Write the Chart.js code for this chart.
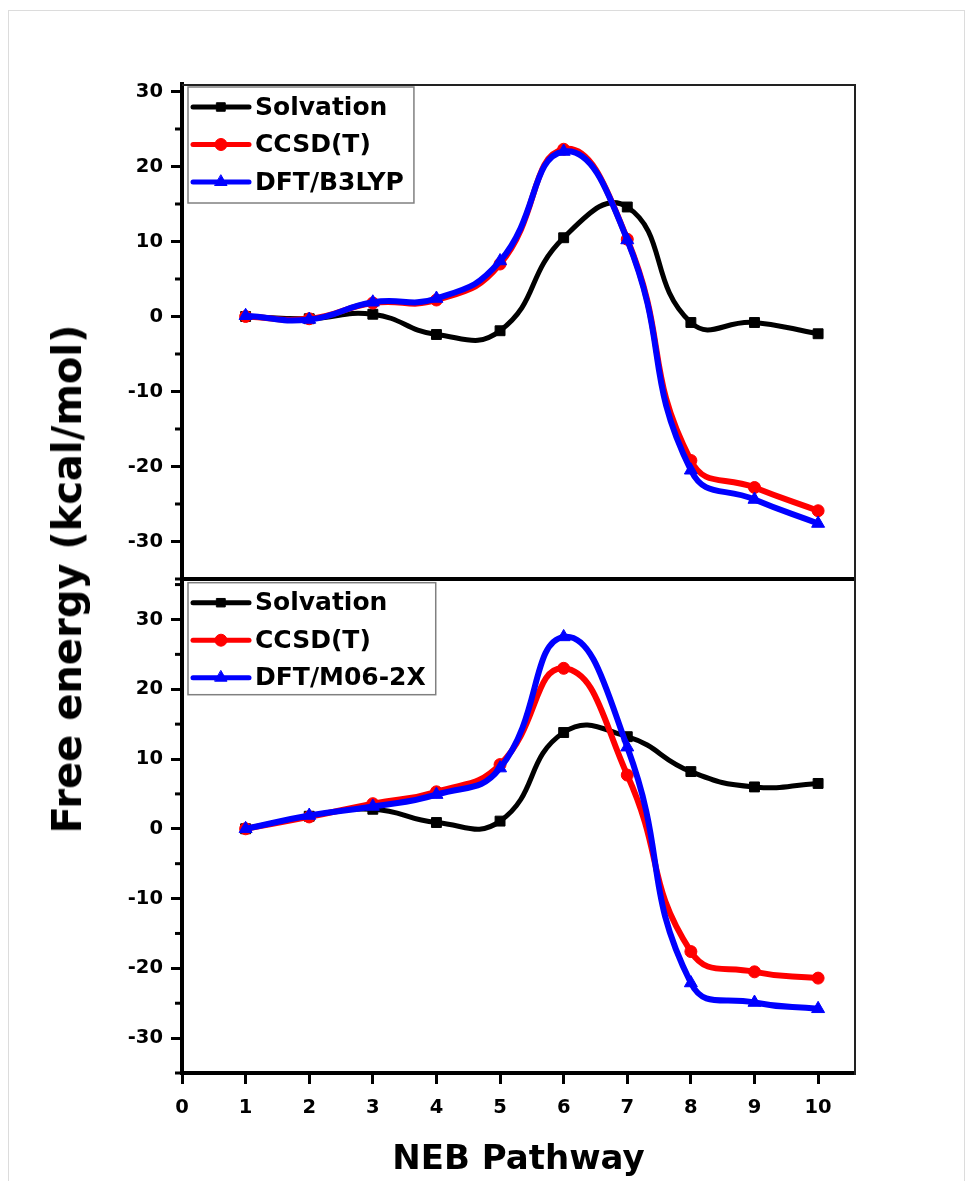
<!DOCTYPE html>
<html><head><meta charset="utf-8">
<script src="https://cdn.jsdelivr.net/npm/chart.js@4.4.1/dist/chart.umd.min.js"></script>
<style>
html,body{margin:0;padding:0;background:#fff;}
body{width:972px;height:1181px;position:relative;overflow:hidden;}
#frame{position:absolute;left:8px;top:10px;width:955px;height:1180px;border-left:1px solid #dcdcdc;border-top:1px solid #dcdcdc;border-right:1px solid #dcdcdc;}
#c1{position:absolute;left:0;top:0;}
#c2{position:absolute;left:0;top:560px;}
#ytitle{position:absolute;left:67px;top:579px;transform:translate(-50%,-50%) rotate(-90deg);font:bold 40px "DejaVu Sans",sans-serif;white-space:nowrap;color:#000;}
</style></head>
<body>
<div id="frame"></div>
<canvas id="c1" width="972" height="600"></canvas>
<canvas id="c2" width="972" height="621"></canvas>
<div id="ytitle">Free energy (kcal/mol)</div>
<script>
// ---- data ----
const pathwaySteps = [1, 2, 3, 4, 5, 6, 7, 8, 9, 10];
const xTickValues = [0, 1, 2, 3, 4, 5, 6, 7, 8, 9, 10];
const yTickValues = [-30, -20, -10, 0, 10, 20, 30];
const yMinorTickValues = [-35, -25, -15, -5, 5, 15, 25, 35];

const topSeriesLabels = ['Solvation', 'CCSD(T)', 'DFT/B3LYP'];
const topSolvation = [0, -0.3, 0.3, -2.4, -1.9, 10.5, 14.6, -0.8, -0.8, -2.3];
const topCCSDT = [0, -0.3, 1.8, 2.2, 7.0, 22.3, 10.3, -19.2, -22.8, -25.9];
const topB3LYP = [0.1, -0.4, 1.9, 2.4, 7.4, 22.0, 10.2, -20.5, -24.4, -27.6];

const bottomSeriesLabels = ['Solvation', 'CCSD(T)', 'DFT/M06-2X'];
const bottomSolvation = [0, 1.8, 2.8, 0.9, 1.1, 13.8, 13.2, 8.2, 6.0, 6.5];
const bottomCCSDT = [0, 1.7, 3.6, 5.3, 9.2, 23.0, 7.7, -17.6, -20.5, -21.4];
const bottomM062X = [0, 1.9, 3.2, 4.9, 8.7, 27.5, 11.7, -22.1, -24.9, -25.8];

// ---- styles ----
const FONT = '"DejaVu Sans", sans-serif';
const seriesStyles = [
  {color: '#000000', pointStyle: 'rect', radius: 7, width: 5, order: 3, legendRadius: 6},
  {color: '#ff0000', pointStyle: 'circle', radius: 6, width: 6, order: 2, legendRadius: 6},
  {color: '#0000ff', pointStyle: 'triangle', radius: 7.5, width: 6, order: 1, legendRadius: 7}
];

const decorPlugin = {
  id: 'decor',
  afterDraw(chart, args, opts) {
    const ctx = chart.ctx;
    const a = chart.chartArea;
    const y = chart.scales.y;
    ctx.save();
    // minor ticks
    ctx.strokeStyle = '#000';
    ctx.lineWidth = 3;
    yMinorTickValues.forEach(v => {
      if (v < y.min || v > y.max) return;
      const py = y.getPixelForValue(v);
      ctx.beginPath();
      ctx.moveTo(a.left - 7, py);
      ctx.lineTo(a.left, py);
      ctx.stroke();
    });
    // frame (top and right)
    ctx.strokeStyle = '#222';
    ctx.lineWidth = 2;
    ctx.beginPath();
    if (opts.drawTop) {
      ctx.moveTo(a.left, a.top + 1);
      ctx.lineTo(a.right, a.top + 1);
    } else {
      ctx.moveTo(a.right, a.top);
    }
    ctx.lineTo(a.right, a.bottom + 2);
    ctx.stroke();
    // legend
    ctx.font = 'bold 25px ' + FONT;
    ctx.textBaseline = 'middle';
    ctx.textAlign = 'left';
    const dsets = chart.data.datasets;
    const textX = a.left + 73;
    const boxLeft = a.left + 6;
    const boxTop = a.top + 3;
    let maxW = 0;
    dsets.forEach(d => { maxW = Math.max(maxW, ctx.measureText(d.label).width); });
    const boxW = textX + maxW + 10 - boxLeft;
    const boxH = opts.boxH;
    ctx.strokeStyle = '#808080';
    ctx.lineWidth = 1.5;
    ctx.strokeRect(boxLeft, boxTop, boxW, boxH);
    dsets.forEach((d, i) => {
      const st = seriesStyles[i];
      const ly = a.top + 23 + i * 37.5;
      ctx.strokeStyle = st.color;
      ctx.lineWidth = 5;
      ctx.lineCap = 'round';
      ctx.beginPath();
      ctx.moveTo(a.left + 11, ly);
      ctx.lineTo(a.left + 67, ly);
      ctx.stroke();
      ctx.fillStyle = st.color;
      ctx.strokeStyle = st.color;
      ctx.lineWidth = 1;
      Chart.helpers.drawPoint(ctx, {pointStyle: st.pointStyle, radius: st.legendRadius, rotation: 0, borderWidth: 1}, a.left + 39, ly);
      ctx.fillStyle = '#000';
      ctx.fillText(d.label, textX, ly + 1);
    });
    ctx.restore();
  }
};

function buildDatasets(labels, seriesList) {
  return seriesList.map((vals, i) => {
    const st = seriesStyles[i];
    return {
      label: labels[i],
      data: pathwaySteps.map((x, k) => ({x: x, y: vals[k]})),
      borderColor: st.color,
      backgroundColor: st.color,
      borderWidth: st.width,
      pointStyle: st.pointStyle,
      pointRadius: st.radius,
      pointBackgroundColor: st.color,
      pointBorderColor: st.color,
      pointBorderWidth: 1,
      tension: 0.48,
      order: st.order,
      fill: false,
      clip: 8
    };
  });
}

function makeChart(canvasId, labels, seriesList, cfg) {
  return new Chart(document.getElementById(canvasId), {
    type: 'line',
    data: {datasets: buildDatasets(labels, seriesList)},
    options: {
      responsive: false,
      animation: false,
      events: [],
      layout: {padding: {top: cfg.padTop, right: 117, left: 0, bottom: 0}},
      plugins: {
        legend: {display: false},
        tooltip: {enabled: false},
        decor: {drawTop: cfg.drawTop, boxH: cfg.boxH}
      },
      scales: {
        x: {
          type: 'linear',
          min: 0,
          max: 10.58,
          afterBuildTicks: s => { s.ticks = xTickValues.map(v => ({value: v})); },
          afterFit: s => { s.height = cfg.xHeight; },
          grid: {drawOnChartArea: false, drawTicks: cfg.xTicks, tickLength: 11, tickWidth: 3, tickColor: '#000'},
          border: {display: true, width: 4, color: '#000'},
          ticks: {display: cfg.xTicks, color: '#000', font: {family: FONT, weight: 'bold', size: 19.5}, padding: 12, maxRotation: 0},
          title: {display: cfg.xTicks, text: 'NEB Pathway', color: '#000', font: {family: FONT, weight: 'bold', size: 34}, padding: {top: 0, bottom: 0}}
        },
        y: {
          type: 'linear',
          min: cfg.yMin,
          max: cfg.yMax,
          afterBuildTicks: s => { s.ticks = yTickValues.map(v => ({value: v})); },
          afterFit: s => { s.width = 182; },
          grid: {drawOnChartArea: false, drawTicks: true, tickLength: 11, tickWidth: 3, tickColor: '#000'},
          border: {display: true, width: 4, color: '#000'},
          ticks: {color: '#000', font: {family: FONT, weight: 'bold', size: 19.5}, padding: 8}
        }
      }
    },
    plugins: [decorPlugin]
  });
}

makeChart('c1', topSeriesLabels, [topSolvation, topCCSDT, topB3LYP],
  {padTop: 84, xHeight: 21, xTicks: false, yMin: -35, yMax: 31, drawTop: true, boxH: 116});
makeChart('c2', bottomSeriesLabels, [bottomSolvation, bottomCCSDT, bottomM062X],
  {padTop: 19, xHeight: 108, xTicks: true, yMin: -35, yMax: 35.7, drawTop: false, boxH: 112});
</script>
</body></html>
